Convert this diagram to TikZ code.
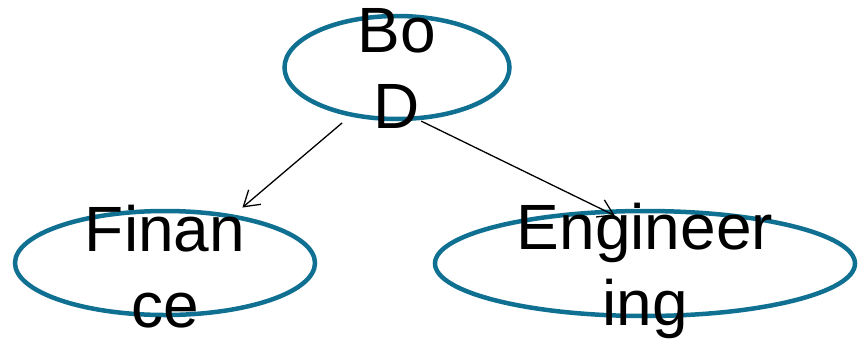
\documentclass[tikz,border=0pt]{standalone}
\usepackage{fontspec}
\setmainfont{Liberation Sans}
\usetikzlibrary{shapes.geometric,arrows.meta}
\definecolor{orgblue}{RGB}{16,112,146}

\begin{document}
\begin{tikzpicture}[x=1pt, y=-1pt,
    unit/.style={ellipse, draw=orgblue, line width=4.5pt, inner sep=0pt},
    lbl/.style={align=center, font=\fontsize{64}{76}\selectfont, inner sep=0pt, anchor=base},
    link/.style={-{Straight Barb[length=15pt,width=19pt,line width=1.3pt]}, line width=1.3pt}]
    \useasboundingbox (0,0) rectangle (861,338);
    \node[unit, minimum width=225pt, minimum height=103pt] (bod) at (397,67.5) {};
    \node[unit, minimum width=300pt, minimum height=104pt] (fin) at (165,263) {};
    \node[unit, minimum width=420pt, minimum height=105pt] (eng) at (645,263.5) {};
    \draw[link, shorten <=10pt, shorten >=11pt] (bod.226.6) -- (fin.35.2);
    \draw[link, shorten <=2pt, shorten >=-13pt] (bod.293.5) -- (eng.128.8);
    \node[lbl] (bodtext) at (397,128) {Bo\\D};
    \node[lbl] (fintext) at (165,327) {Finan\\ce};
    \node[lbl] (engtext) at (645,325) {Engineer\\ing};
\end{tikzpicture}
\end{document}
